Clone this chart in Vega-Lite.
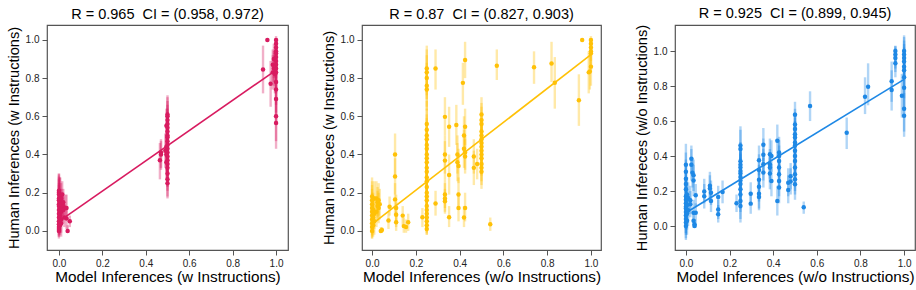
{
  "$schema": "https://vega.github.io/schema/vega-lite/v6.json",
  "padding": {"left": 5, "top": 5, "right": 5, "bottom": 3},
  "datasets": {
    "p1": [
      {"x":0.0,"y":0.0,"lo":-0.03,"hi":0.05},{"x":0.0,"y":0.02,"lo":-0.03,"hi":0.08},{"x":0.005,"y":0.03,"lo":-0.02,"hi":0.1},{"x":0.0,"y":0.05,"lo":-0.01,"hi":0.12},{"x":0.0,"y":0.07,"lo":0.0,"hi":0.15},{"x":0.005,"y":0.08,"lo":0.0,"hi":0.16},{"x":0.0,"y":0.09,"lo":0.02,"hi":0.18},{"x":0.0,"y":0.11,"lo":0.03,"hi":0.2},{"x":0.005,"y":0.12,"lo":0.04,"hi":0.22},{"x":0.0,"y":0.13,"lo":0.04,"hi":0.24},{"x":0.0,"y":0.14,"lo":0.05,"hi":0.25},{"x":0.005,"y":0.15,"lo":0.06,"hi":0.28},{"x":0.0,"y":0.16,"lo":0.07,"hi":0.3},{"x":0.0,"y":0.17,"lo":0.08,"hi":0.27},{"x":0.005,"y":0.18,"lo":0.1,"hi":0.28},{"x":0.0,"y":0.19,"lo":0.11,"hi":0.29},{"x":0.0,"y":0.2,"lo":0.12,"hi":0.3},{"x":0.0,"y":0.21,"lo":0.13,"hi":0.28},{"x":0.01,"y":0.06,"lo":-0.01,"hi":0.13},{"x":0.01,"y":0.1,"lo":0.03,"hi":0.18},{"x":0.01,"y":0.14,"lo":0.06,"hi":0.22},{"x":0.01,"y":0.17,"lo":0.09,"hi":0.25},{"x":0.01,"y":0.04,"lo":-0.03,"hi":0.11},{"x":0.015,"y":0.12,"lo":0.05,"hi":0.2},{"x":0.015,"y":0.19,"lo":0.12,"hi":0.26},{"x":0.02,"y":0.13,"lo":0.07,"hi":0.2},{"x":0.02,"y":0.15,"lo":0.08,"hi":0.22},{"x":0.02,"y":0.11,"lo":0.04,"hi":0.18},{"x":0.025,"y":0.07,"lo":0.02,"hi":0.14},{"x":0.03,"y":0.12,"lo":0.06,"hi":0.19},{"x":0.035,"y":0.12,"lo":0.06,"hi":0.19},{"x":0.035,"y":0.065,"lo":0.01,"hi":0.13},{"x":0.04,"y":0.0,"lo":-0.01,"hi":0.03},{"x":0.05,"y":0.05,"lo":0.02,"hi":0.08},{"x":0.0,"y":0.01,"lo":-0.04,"hi":0.06},{"x":0.0,"y":0.035,"lo":-0.02,"hi":0.09},
      {"x":0.5,"y":0.61,"lo":0.52,"hi":0.7},{"x":0.5,"y":0.6,"lo":0.5,"hi":0.71},{"x":0.5,"y":0.58,"lo":0.48,"hi":0.68},{"x":0.5,"y":0.56,"lo":0.46,"hi":0.66},{"x":0.5,"y":0.54,"lo":0.44,"hi":0.64},{"x":0.5,"y":0.52,"lo":0.43,"hi":0.62},{"x":0.5,"y":0.5,"lo":0.41,"hi":0.6},{"x":0.5,"y":0.49,"lo":0.39,"hi":0.59},{"x":0.5,"y":0.47,"lo":0.37,"hi":0.57},{"x":0.5,"y":0.45,"lo":0.36,"hi":0.55},{"x":0.5,"y":0.43,"lo":0.33,"hi":0.53},{"x":0.5,"y":0.41,"lo":0.31,"hi":0.51},{"x":0.5,"y":0.39,"lo":0.29,"hi":0.49},{"x":0.5,"y":0.37,"lo":0.27,"hi":0.47},{"x":0.5,"y":0.35,"lo":0.25,"hi":0.45},{"x":0.5,"y":0.33,"lo":0.23,"hi":0.43},{"x":0.5,"y":0.3,"lo":0.21,"hi":0.4},{"x":0.5,"y":0.27,"lo":0.18,"hi":0.37},{"x":0.5,"y":0.25,"lo":0.17,"hi":0.34},{"x":0.495,"y":0.44,"lo":0.35,"hi":0.53},{"x":0.495,"y":0.4,"lo":0.31,"hi":0.5},{"x":0.495,"y":0.36,"lo":0.27,"hi":0.46},{"x":0.495,"y":0.55,"lo":0.46,"hi":0.64},{"x":0.49,"y":0.42,"lo":0.33,"hi":0.51},{"x":0.47,"y":0.41,"lo":0.33,"hi":0.48},{"x":0.47,"y":0.4,"lo":0.32,"hi":0.47},{"x":0.465,"y":0.37,"lo":0.27,"hi":0.46},
      {"x":0.96,"y":1.0,"lo":1.0,"hi":1.0},{"x":0.94,"y":0.845,"lo":0.72,"hi":0.97},{"x":0.975,"y":0.77,"lo":0.65,"hi":0.89},{"x":0.985,"y":0.87,"lo":0.78,"hi":0.95},{"x":0.985,"y":0.83,"lo":0.74,"hi":0.92},{"x":0.99,"y":0.9,"lo":0.8,"hi":0.98},{"x":0.99,"y":0.85,"lo":0.76,"hi":0.94},{"x":0.995,"y":0.82,"lo":0.72,"hi":0.92},{"x":1.0,"y":1.0,"lo":0.98,"hi":1.02},{"x":1.0,"y":0.98,"lo":0.94,"hi":1.01},{"x":1.0,"y":0.96,"lo":0.9,"hi":1.01},{"x":1.0,"y":0.94,"lo":0.87,"hi":1.0},{"x":1.0,"y":0.93,"lo":0.85,"hi":1.0},{"x":1.0,"y":0.91,"lo":0.83,"hi":0.99},{"x":1.0,"y":0.89,"lo":0.8,"hi":0.97},{"x":1.0,"y":0.87,"lo":0.78,"hi":0.96},{"x":1.0,"y":0.85,"lo":0.75,"hi":0.95},{"x":1.0,"y":0.83,"lo":0.72,"hi":0.93},{"x":1.0,"y":0.78,"lo":0.66,"hi":0.9},{"x":1.0,"y":0.74,"lo":0.62,"hi":0.86},{"x":1.0,"y":0.69,"lo":0.56,"hi":0.82},{"x":1.0,"y":0.6,"lo":0.47,"hi":0.73},{"x":1.0,"y":0.565,"lo":0.43,"hi":0.7}
    ],
    "l1": [{"x":0.0,"y":0.05},{"x":1.0,"y":0.842}],
    "p2": [
      {"x":0.0,"y":0.18,"lo":0.08,"hi":0.28},{"x":0.0,"y":0.16,"lo":0.06,"hi":0.26},{"x":0.0,"y":0.14,"lo":0.04,"hi":0.24},{"x":0.0,"y":0.12,"lo":0.02,"hi":0.22},{"x":0.0,"y":0.1,"lo":0.0,"hi":0.2},{"x":0.0,"y":0.08,"lo":-0.01,"hi":0.17},{"x":0.0,"y":0.06,"lo":-0.02,"hi":0.15},{"x":0.0,"y":0.04,"lo":-0.03,"hi":0.12},{"x":0.0,"y":0.02,"lo":-0.04,"hi":0.09},{"x":0.0,"y":0.0,"lo":-0.04,"hi":0.05},{"x":0.005,"y":0.07,"lo":-0.01,"hi":0.15},{"x":0.005,"y":0.11,"lo":0.02,"hi":0.2},{"x":0.005,"y":0.03,"lo":-0.03,"hi":0.1},{"x":0.01,"y":0.17,"lo":0.08,"hi":0.26},{"x":0.01,"y":0.09,"lo":0.01,"hi":0.18},{"x":0.01,"y":0.05,"lo":-0.02,"hi":0.12},{"x":0.02,"y":0.17,"lo":0.08,"hi":0.26},{"x":0.025,"y":0.15,"lo":0.07,"hi":0.23},{"x":0.025,"y":0.13,"lo":0.05,"hi":0.21},{"x":0.03,"y":0.16,"lo":0.08,"hi":0.25},{"x":0.03,"y":0.12,"lo":0.04,"hi":0.2},{"x":0.02,"y":0.1,"lo":0.02,"hi":0.18},{"x":0.035,"y":0.14,"lo":0.06,"hi":0.22},{"x":0.04,"y":0.0,"lo":-0.01,"hi":0.02},{"x":0.045,"y":0.005,"lo":-0.01,"hi":0.02},
      {"x":0.08,"y":0.127,"lo":0.08,"hi":0.18},{"x":0.075,"y":0.055,"lo":0.01,"hi":0.1},{"x":0.105,"y":0.4,"lo":0.29,"hi":0.51},{"x":0.105,"y":0.285,"lo":0.19,"hi":0.38},{"x":0.105,"y":0.165,"lo":0.08,"hi":0.25},{"x":0.11,"y":0.12,"lo":0.05,"hi":0.19},{"x":0.11,"y":0.085,"lo":0.02,"hi":0.15},{"x":0.11,"y":0.045,"lo":0.0,"hi":0.1},{"x":0.14,"y":0.08,"lo":0.03,"hi":0.13},{"x":0.145,"y":0.025,"lo":-0.01,"hi":0.07},{"x":0.155,"y":0.02,"lo":-0.01,"hi":0.06},{"x":0.165,"y":0.045,"lo":0.0,"hi":0.09},{"x":0.23,"y":0.072,"lo":0.02,"hi":0.12},
      {"x":0.25,"y":0.85,"lo":0.73,"hi":0.97},{"x":0.25,"y":0.83,"lo":0.71,"hi":0.95},{"x":0.25,"y":0.8,"lo":0.69,"hi":0.92},{"x":0.25,"y":0.76,"lo":0.65,"hi":0.88},{"x":0.25,"y":0.74,"lo":0.63,"hi":0.86},{"x":0.25,"y":0.56,"lo":0.45,"hi":0.68},{"x":0.25,"y":0.53,"lo":0.42,"hi":0.64},{"x":0.25,"y":0.5,"lo":0.39,"hi":0.61},{"x":0.25,"y":0.48,"lo":0.37,"hi":0.59},{"x":0.25,"y":0.45,"lo":0.34,"hi":0.56},{"x":0.25,"y":0.43,"lo":0.32,"hi":0.54},{"x":0.25,"y":0.4,"lo":0.29,"hi":0.51},{"x":0.25,"y":0.38,"lo":0.27,"hi":0.49},{"x":0.25,"y":0.36,"lo":0.25,"hi":0.47},{"x":0.25,"y":0.33,"lo":0.22,"hi":0.44},{"x":0.25,"y":0.31,"lo":0.2,"hi":0.42},{"x":0.25,"y":0.28,"lo":0.17,"hi":0.39},{"x":0.25,"y":0.26,"lo":0.15,"hi":0.37},{"x":0.25,"y":0.23,"lo":0.12,"hi":0.34},{"x":0.25,"y":0.2,"lo":0.1,"hi":0.31},{"x":0.25,"y":0.18,"lo":0.08,"hi":0.29},{"x":0.25,"y":0.16,"lo":0.06,"hi":0.27},{"x":0.25,"y":0.13,"lo":0.04,"hi":0.23},{"x":0.25,"y":0.11,"lo":0.02,"hi":0.21},{"x":0.25,"y":0.09,"lo":0.01,"hi":0.18},{"x":0.25,"y":0.07,"lo":0.0,"hi":0.15},{"x":0.25,"y":0.05,"lo":-0.01,"hi":0.12},{"x":0.25,"y":0.03,"lo":-0.02,"hi":0.09},{"x":0.25,"y":0.01,"lo":-0.02,"hi":0.05},
      {"x":0.29,"y":0.85,"lo":0.74,"hi":0.95},{"x":0.29,"y":0.143,"lo":0.08,"hi":0.21},{"x":0.333,"y":0.597,"lo":0.5,"hi":0.7},{"x":0.333,"y":0.4,"lo":0.3,"hi":0.5},{"x":0.333,"y":0.368,"lo":0.27,"hi":0.47},{"x":0.333,"y":0.19,"lo":0.12,"hi":0.27},{"x":0.333,"y":0.17,"lo":0.1,"hi":0.25},{"x":0.333,"y":0.155,"lo":0.09,"hi":0.22},{"x":0.352,"y":0.545,"lo":0.44,"hi":0.65},{"x":0.352,"y":0.293,"lo":0.19,"hi":0.4},{"x":0.352,"y":0.072,"lo":0.02,"hi":0.13},{"x":0.385,"y":0.555,"lo":0.45,"hi":0.66},{"x":0.39,"y":0.4,"lo":0.3,"hi":0.5},{"x":0.39,"y":0.36,"lo":0.26,"hi":0.46},{"x":0.395,"y":0.34,"lo":0.25,"hi":0.43},{"x":0.395,"y":0.19,"lo":0.11,"hi":0.28},{"x":0.395,"y":0.12,"lo":0.05,"hi":0.2},{"x":0.415,"y":0.775,"lo":0.66,"hi":0.88},{"x":0.42,"y":0.07,"lo":0.02,"hi":0.13},{"x":0.42,"y":0.43,"lo":0.33,"hi":0.53},{"x":0.42,"y":0.5,"lo":0.41,"hi":0.6},{"x":0.425,"y":0.895,"lo":0.8,"hi":0.99},{"x":0.425,"y":0.545,"lo":0.45,"hi":0.64},{"x":0.425,"y":0.41,"lo":0.32,"hi":0.5},{"x":0.425,"y":0.39,"lo":0.3,"hi":0.48},{"x":0.425,"y":0.12,"lo":0.05,"hi":0.2},{"x":0.465,"y":0.39,"lo":0.3,"hi":0.48},{"x":0.465,"y":0.33,"lo":0.24,"hi":0.42},{"x":0.48,"y":0.35,"lo":0.27,"hi":0.43},
      {"x":0.5,"y":0.61,"lo":0.52,"hi":0.7},{"x":0.5,"y":0.58,"lo":0.49,"hi":0.67},{"x":0.5,"y":0.56,"lo":0.47,"hi":0.65},{"x":0.5,"y":0.52,"lo":0.43,"hi":0.61},{"x":0.5,"y":0.5,"lo":0.41,"hi":0.59},{"x":0.5,"y":0.48,"lo":0.39,"hi":0.57},{"x":0.5,"y":0.46,"lo":0.37,"hi":0.55},{"x":0.5,"y":0.44,"lo":0.35,"hi":0.53},{"x":0.5,"y":0.42,"lo":0.33,"hi":0.51},{"x":0.5,"y":0.4,"lo":0.31,"hi":0.49},{"x":0.5,"y":0.38,"lo":0.29,"hi":0.47},{"x":0.5,"y":0.35,"lo":0.26,"hi":0.44},{"x":0.5,"y":0.33,"lo":0.24,"hi":0.42},{"x":0.5,"y":0.31,"lo":0.22,"hi":0.4},
      {"x":0.54,"y":0.035,"lo":0.0,"hi":0.07},{"x":0.57,"y":0.865,"lo":0.79,"hi":0.95},{"x":0.74,"y":0.857,"lo":0.77,"hi":0.94},{"x":0.82,"y":0.877,"lo":0.78,"hi":0.99},{"x":0.835,"y":0.776,"lo":0.64,"hi":0.91},{"x":0.945,"y":0.684,"lo":0.55,"hi":0.82},{"x":0.96,"y":1.0,"lo":1.0,"hi":1.0},
      {"x":1.0,"y":1.0,"lo":0.98,"hi":1.02},{"x":1.0,"y":0.98,"lo":0.92,"hi":1.01},{"x":1.0,"y":0.96,"lo":0.89,"hi":1.01},{"x":1.0,"y":0.94,"lo":0.86,"hi":1.0},{"x":1.0,"y":0.93,"lo":0.84,"hi":1.0},{"x":1.0,"y":0.86,"lo":0.76,"hi":0.96},{"x":0.995,"y":0.835,"lo":0.74,"hi":0.93},{"x":0.99,"y":0.83,"lo":0.72,"hi":0.94}
    ],
    "l2": [{"x":0.0,"y":0.035},{"x":1.0,"y":0.923}],
    "p3": [
      {"x":0.0,"y":0.35,"lo":0.25,"hi":0.47},{"x":0.0,"y":0.31,"lo":0.21,"hi":0.42},{"x":0.0,"y":0.27,"lo":0.17,"hi":0.38},{"x":0.0,"y":0.24,"lo":0.14,"hi":0.35},{"x":0.0,"y":0.21,"lo":0.11,"hi":0.32},{"x":0.0,"y":0.17,"lo":0.07,"hi":0.28},{"x":0.0,"y":0.15,"lo":0.05,"hi":0.26},{"x":0.0,"y":0.13,"lo":0.03,"hi":0.24},{"x":0.0,"y":0.11,"lo":0.01,"hi":0.21},{"x":0.0,"y":0.1,"lo":0.0,"hi":0.2},{"x":0.0,"y":0.08,"lo":-0.02,"hi":0.18},{"x":0.0,"y":0.06,"lo":-0.04,"hi":0.16},{"x":0.0,"y":0.04,"lo":-0.05,"hi":0.13},{"x":0.0,"y":0.02,"lo":-0.07,"hi":0.11},{"x":0.0,"y":0.0,"lo":-0.08,"hi":0.08},{"x":0.005,"y":0.18,"lo":0.08,"hi":0.28},{"x":0.005,"y":0.12,"lo":0.03,"hi":0.22},{"x":0.005,"y":0.07,"lo":-0.02,"hi":0.16},{"x":0.005,"y":0.03,"lo":-0.05,"hi":0.11},{"x":0.01,"y":0.09,"lo":0.0,"hi":0.18},{"x":0.01,"y":0.16,"lo":0.07,"hi":0.25},
      {"x":0.025,"y":0.385,"lo":0.3,"hi":0.46},{"x":0.025,"y":0.35,"lo":0.26,"hi":0.44},{"x":0.03,"y":0.305,"lo":0.22,"hi":0.39},{"x":0.02,"y":0.147,"lo":0.07,"hi":0.23},{"x":0.02,"y":0.124,"lo":0.05,"hi":0.2},{"x":0.035,"y":0.29,"lo":0.2,"hi":0.38},{"x":0.035,"y":0.26,"lo":0.17,"hi":0.35},{"x":0.035,"y":0.076,"lo":0.0,"hi":0.15},{"x":0.035,"y":0.03,"lo":-0.01,"hi":0.07},{"x":0.04,"y":0.01,"lo":-0.01,"hi":0.04},{"x":0.04,"y":0.0,"lo":-0.01,"hi":0.02},{"x":0.045,"y":0.176,"lo":0.11,"hi":0.24},{"x":0.045,"y":0.076,"lo":0.02,"hi":0.13},
      {"x":0.084,"y":0.197,"lo":0.13,"hi":0.27},{"x":0.084,"y":0.17,"lo":0.1,"hi":0.24},{"x":0.11,"y":0.23,"lo":0.15,"hi":0.31},{"x":0.11,"y":0.215,"lo":0.14,"hi":0.29},{"x":0.115,"y":0.19,"lo":0.12,"hi":0.26},{"x":0.115,"y":0.143,"lo":0.08,"hi":0.21},{"x":0.148,"y":0.166,"lo":0.1,"hi":0.23},{"x":0.148,"y":0.095,"lo":0.04,"hi":0.15},{"x":0.148,"y":0.067,"lo":0.02,"hi":0.12},{"x":0.168,"y":0.195,"lo":0.13,"hi":0.26},{"x":0.232,"y":0.13,"lo":0.08,"hi":0.18},
      {"x":0.25,"y":0.46,"lo":0.35,"hi":0.57},{"x":0.25,"y":0.44,"lo":0.33,"hi":0.55},{"x":0.25,"y":0.37,"lo":0.26,"hi":0.48},{"x":0.25,"y":0.35,"lo":0.24,"hi":0.46},{"x":0.25,"y":0.335,"lo":0.23,"hi":0.44},{"x":0.25,"y":0.315,"lo":0.21,"hi":0.42},{"x":0.25,"y":0.3,"lo":0.19,"hi":0.41},{"x":0.25,"y":0.28,"lo":0.17,"hi":0.39},{"x":0.25,"y":0.26,"lo":0.15,"hi":0.37},{"x":0.25,"y":0.24,"lo":0.13,"hi":0.35},{"x":0.25,"y":0.21,"lo":0.1,"hi":0.32},{"x":0.25,"y":0.18,"lo":0.08,"hi":0.29},{"x":0.25,"y":0.143,"lo":0.04,"hi":0.25},{"x":0.25,"y":0.115,"lo":0.02,"hi":0.21},
      {"x":0.297,"y":0.185,"lo":0.12,"hi":0.25},{"x":0.297,"y":0.128,"lo":0.07,"hi":0.19},{"x":0.335,"y":0.376,"lo":0.29,"hi":0.46},{"x":0.335,"y":0.32,"lo":0.23,"hi":0.41},{"x":0.335,"y":0.264,"lo":0.18,"hi":0.35},{"x":0.335,"y":0.224,"lo":0.14,"hi":0.31},{"x":0.335,"y":0.185,"lo":0.1,"hi":0.27},{"x":0.335,"y":0.166,"lo":0.09,"hi":0.25},{"x":0.355,"y":0.464,"lo":0.37,"hi":0.56},{"x":0.355,"y":0.407,"lo":0.32,"hi":0.5},{"x":0.355,"y":0.353,"lo":0.26,"hi":0.44},{"x":0.355,"y":0.306,"lo":0.22,"hi":0.39},{"x":0.385,"y":0.41,"lo":0.32,"hi":0.5},{"x":0.385,"y":0.353,"lo":0.27,"hi":0.44},{"x":0.385,"y":0.334,"lo":0.25,"hi":0.42},{"x":0.385,"y":0.3,"lo":0.21,"hi":0.39},{"x":0.392,"y":0.4,"lo":0.31,"hi":0.49},{"x":0.392,"y":0.258,"lo":0.17,"hi":0.35},{"x":0.419,"y":0.487,"lo":0.39,"hi":0.58},{"x":0.419,"y":0.143,"lo":0.06,"hi":0.23},{"x":0.427,"y":0.42,"lo":0.33,"hi":0.51},{"x":0.427,"y":0.4,"lo":0.31,"hi":0.49},{"x":0.427,"y":0.372,"lo":0.28,"hi":0.46},{"x":0.427,"y":0.334,"lo":0.25,"hi":0.42},{"x":0.427,"y":0.296,"lo":0.21,"hi":0.38},{"x":0.427,"y":0.258,"lo":0.17,"hi":0.35},{"x":0.427,"y":0.22,"lo":0.13,"hi":0.31},{"x":0.469,"y":0.248,"lo":0.17,"hi":0.33},{"x":0.469,"y":0.206,"lo":0.13,"hi":0.29},{"x":0.48,"y":0.285,"lo":0.21,"hi":0.36},{"x":0.48,"y":0.254,"lo":0.18,"hi":0.33},
      {"x":0.5,"y":0.636,"lo":0.54,"hi":0.71},{"x":0.5,"y":0.58,"lo":0.49,"hi":0.67},{"x":0.5,"y":0.555,"lo":0.46,"hi":0.65},{"x":0.5,"y":0.525,"lo":0.43,"hi":0.62},{"x":0.5,"y":0.506,"lo":0.41,"hi":0.6},{"x":0.5,"y":0.478,"lo":0.38,"hi":0.57},{"x":0.5,"y":0.46,"lo":0.37,"hi":0.55},{"x":0.5,"y":0.43,"lo":0.34,"hi":0.52},{"x":0.5,"y":0.4,"lo":0.31,"hi":0.49},{"x":0.5,"y":0.372,"lo":0.28,"hi":0.46},{"x":0.5,"y":0.334,"lo":0.24,"hi":0.43},{"x":0.5,"y":0.296,"lo":0.2,"hi":0.39},{"x":0.5,"y":0.267,"lo":0.18,"hi":0.36},{"x":0.5,"y":0.239,"lo":0.15,"hi":0.33},
      {"x":0.54,"y":0.107,"lo":0.07,"hi":0.14},{"x":0.569,"y":0.686,"lo":0.6,"hi":0.77},{"x":0.737,"y":0.533,"lo":0.44,"hi":0.62},{"x":0.821,"y":0.739,"lo":0.64,"hi":0.85},{"x":0.835,"y":0.796,"lo":0.69,"hi":0.93},{"x":0.943,"y":0.827,"lo":0.71,"hi":0.94},{"x":0.943,"y":0.777,"lo":0.66,"hi":0.89},{"x":0.96,"y":1.0,"lo":0.93,"hi":1.03},{"x":0.96,"y":0.98,"lo":0.9,"hi":1.03},{"x":0.96,"y":0.96,"lo":0.88,"hi":1.02},{"x":0.96,"y":0.93,"lo":0.85,"hi":1.0},
      {"x":1.0,"y":1.0,"lo":0.9,"hi":1.09},{"x":1.0,"y":0.98,"lo":0.88,"hi":1.08},{"x":1.0,"y":0.96,"lo":0.86,"hi":1.06},{"x":1.0,"y":0.94,"lo":0.84,"hi":1.04},{"x":1.0,"y":0.91,"lo":0.8,"hi":1.02},{"x":1.0,"y":0.89,"lo":0.78,"hi":1.0},{"x":1.0,"y":0.85,"lo":0.73,"hi":0.97},{"x":1.0,"y":0.79,"lo":0.66,"hi":0.92},{"x":1.0,"y":0.67,"lo":0.54,"hi":0.8},{"x":1.0,"y":0.63,"lo":0.51,"hi":0.76},{"x":0.99,"y":0.745,"lo":0.62,"hi":0.87}
    ],
    "l3": [{"x":0.0,"y":0.076},{"x":1.0,"y":0.838}]
  },
  "hconcat": [
    {
      "title": {"text": "R = 0.965\u00a0 CI = (0.958, 0.972)", "fontSize": 14.5, "font": "Liberation Sans", "fontWeight": "normal", "color": "#000000", "offset": 3, "anchor": "middle", "frame": "group"},
      "width": 241, "height": 225,
      "layer": [
        {"data": {"name": "p1"}, "mark": {"type": "rule", "color": "#D81B60", "opacity": 0.35, "strokeWidth": 2.4, "clip": true},
         "encoding": {
           "x": {"field": "x", "type": "quantitative", "scale": {"domain": [-0.055, 1.055], "nice": false, "zero": false}, "axis": {"values": [0, 0.2, 0.4, 0.6, 0.8, 1], "format": ".1f", "title": "Model Inferences (w Instructions)"}},
           "y": {"field": "lo", "type": "quantitative", "scale": {"domain": [-0.1, 1.078], "nice": false, "zero": false}, "axis": {"values": [0, 0.2, 0.4, 0.6, 0.8, 1], "format": ".1f", "title": "Human Inferences (w Instructions)"}},
           "y2": {"field": "hi"}}},
        {"data": {"name": "p1"}, "mark": {"type": "point", "filled": true, "shape": "circle", "size": 20, "color": "#D81B60", "opacity": 1},
         "encoding": {
           "x": {"field": "x", "type": "quantitative", "axis": {"values": [0, 0.2, 0.4, 0.6, 0.8, 1], "format": ".1f", "title": "Model Inferences (w Instructions)"}},
           "y": {"field": "y", "type": "quantitative", "axis": {"values": [0, 0.2, 0.4, 0.6, 0.8, 1], "format": ".1f", "title": "Human Inferences (w Instructions)"}}}},
        {"data": {"name": "l1"}, "mark": {"type": "line", "color": "#D81B60", "strokeWidth": 1.6},
         "encoding": {
           "x": {"field": "x", "type": "quantitative", "axis": {"values": [0, 0.2, 0.4, 0.6, 0.8, 1], "format": ".1f", "title": "Model Inferences (w Instructions)"}},
           "y": {"field": "y", "type": "quantitative", "axis": {"values": [0, 0.2, 0.4, 0.6, 0.8, 1], "format": ".1f", "title": "Human Inferences (w Instructions)"}}}}
      ]
    },
    {
      "title": {"text": "R = 0.87\u00a0 CI = (0.827, 0.903)", "fontSize": 14.5, "font": "Liberation Sans", "fontWeight": "normal", "color": "#000000", "offset": 3, "anchor": "middle", "frame": "group"},
      "width": 239, "height": 225,
      "layer": [
        {"data": {"name": "p2"}, "mark": {"type": "rule", "color": "#FFC107", "opacity": 0.35, "strokeWidth": 2.4, "clip": true},
         "encoding": {
           "x": {"field": "x", "type": "quantitative", "scale": {"domain": [-0.046, 1.046], "nice": false, "zero": false}, "axis": {"values": [0, 0.2, 0.4, 0.6, 0.8, 1], "format": ".1f", "title": "Model Inferences (w/o Instructions)"}},
           "y": {"field": "lo", "type": "quantitative", "scale": {"domain": [-0.1, 1.078], "nice": false, "zero": false}, "axis": {"values": [0, 0.2, 0.4, 0.6, 0.8, 1], "format": ".1f", "title": "Human Infereces (w Instructions)"}},
           "y2": {"field": "hi"}}},
        {"data": {"name": "p2"}, "mark": {"type": "point", "filled": true, "shape": "circle", "size": 20, "color": "#FFC107", "opacity": 1},
         "encoding": {
           "x": {"field": "x", "type": "quantitative", "axis": {"values": [0, 0.2, 0.4, 0.6, 0.8, 1], "format": ".1f", "title": "Model Inferences (w/o Instructions)"}},
           "y": {"field": "y", "type": "quantitative", "axis": {"values": [0, 0.2, 0.4, 0.6, 0.8, 1], "format": ".1f", "title": "Human Infereces (w Instructions)"}}}},
        {"data": {"name": "l2"}, "mark": {"type": "line", "color": "#FFC107", "strokeWidth": 1.6},
         "encoding": {
           "x": {"field": "x", "type": "quantitative", "axis": {"values": [0, 0.2, 0.4, 0.6, 0.8, 1], "format": ".1f", "title": "Model Inferences (w/o Instructions)"}},
           "y": {"field": "y", "type": "quantitative", "axis": {"values": [0, 0.2, 0.4, 0.6, 0.8, 1], "format": ".1f", "title": "Human Infereces (w Instructions)"}}}}
      ]
    },
    {
      "title": {"text": "R = 0.925\u00a0 CI = (0.899, 0.945)", "fontSize": 14.5, "font": "Liberation Sans", "fontWeight": "normal", "color": "#000000", "offset": 3, "anchor": "middle", "frame": "group"},
      "width": 240, "height": 225,
      "layer": [
        {"data": {"name": "p3"}, "mark": {"type": "rule", "color": "#1E88E5", "opacity": 0.35, "strokeWidth": 2.4, "clip": true},
         "encoding": {
           "x": {"field": "x", "type": "quantitative", "scale": {"domain": [-0.05, 1.05], "nice": false, "zero": false}, "axis": {"values": [0, 0.2, 0.4, 0.6, 0.8, 1], "format": ".1f", "title": "Model Inferences (w/o Instructions)"}},
           "y": {"field": "lo", "type": "quantitative", "scale": {"domain": [-0.137, 1.149], "nice": false, "zero": false}, "axis": {"values": [0, 0.2, 0.4, 0.6, 0.8, 1], "format": ".1f", "title": "Human Infereces (w/o Instructions)"}},
           "y2": {"field": "hi"}}},
        {"data": {"name": "p3"}, "mark": {"type": "point", "filled": true, "shape": "circle", "size": 20, "color": "#1E88E5", "opacity": 1},
         "encoding": {
           "x": {"field": "x", "type": "quantitative", "axis": {"values": [0, 0.2, 0.4, 0.6, 0.8, 1], "format": ".1f", "title": "Model Inferences (w/o Instructions)"}},
           "y": {"field": "y", "type": "quantitative", "axis": {"values": [0, 0.2, 0.4, 0.6, 0.8, 1], "format": ".1f", "title": "Human Infereces (w/o Instructions)"}}}},
        {"data": {"name": "l3"}, "mark": {"type": "line", "color": "#1E88E5", "strokeWidth": 1.6},
         "encoding": {
           "x": {"field": "x", "type": "quantitative", "axis": {"values": [0, 0.2, 0.4, 0.6, 0.8, 1], "format": ".1f", "title": "Model Inferences (w/o Instructions)"}},
           "y": {"field": "y", "type": "quantitative", "axis": {"values": [0, 0.2, 0.4, 0.6, 0.8, 1], "format": ".1f", "title": "Human Infereces (w/o Instructions)"}}}}
      ]
    }
  ],
  "spacing": 31,
  "config": {
    "font": "Liberation Sans",
    "background": "white",
    "view": {"stroke": "#555555", "strokeWidth": 1.2},
    "axis": {"domain": false, "grid": false, "tickColor": "#555555", "tickSize": 5, "labelFontSize": 10, "labelColor": "#222222", "labelPadding": 3, "titleFontWeight": "normal", "titleColor": "#000000"},
    "axisY": {"minExtent": 21, "maxExtent": 21, "titlePadding": 5, "titleFontSize": 14.6},
    "axisX": {"minExtent": 17, "maxExtent": 17, "titlePadding": 2, "titleFontSize": 15.3},
    "title": {"fontSize": 14.5, "fontWeight": "normal", "color": "#000000", "offset": 3}
  }
}
